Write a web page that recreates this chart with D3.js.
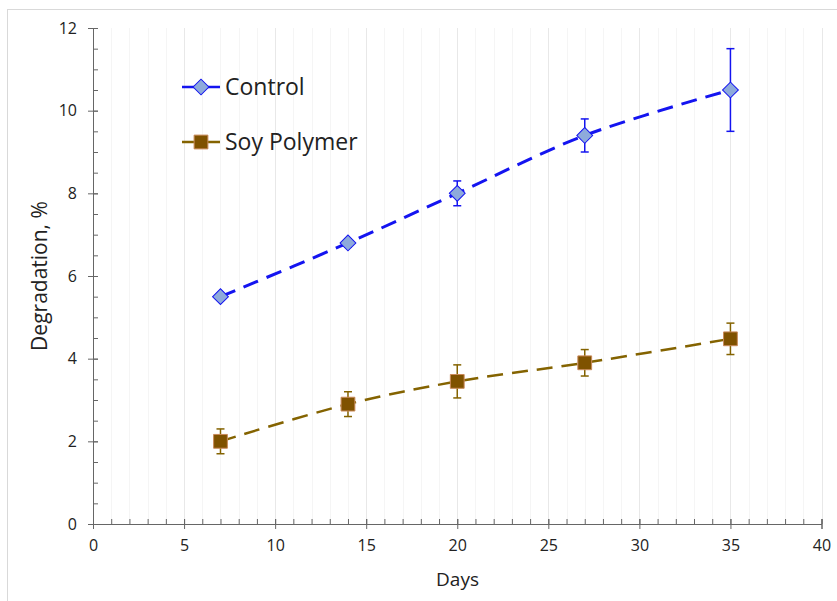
<!DOCTYPE html>
<html>
<head>
<meta charset="utf-8">
<script src="https://cdn.jsdelivr.net/npm/d3@7"></script>
<style>
  body { margin: 0; background: #fff; }
  svg text { font-family: "Open Sans", "Liberation Sans", sans-serif; fill: #222; }
</style>
</head>
<body>
<div class="chart"></div>
<script>
// data
const days = [7, 14, 20, 27, 35];
const control = [5.5, 6.8, 8.0, 9.4, 10.5];
const controlErr = [0.05, 0.1, 0.3, 0.4, 1.0];
const soy = [2.0, 2.9, 3.45, 3.9, 4.48];
const soyErr = [0.3, 0.3, 0.4, 0.32, 0.38];
const xTicks = [0, 5, 10, 15, 20, 25, 30, 35, 40];
const yTicks = [0, 2, 4, 6, 8, 10, 12];

let margin = { top: 28, right: 15, bottom: 77, left: 93 },
    width = 837 - margin.left - margin.right,
    height = 601 - margin.top - margin.bottom;

let root = d3.select(".chart")
    .append("svg")
    .attr("width", 837)
    .attr("height", 601);

// outer frame
root.append("rect")
    .attr("x", 7.5).attr("y", 9.5)
    .attr("width", 840).attr("height", 600)
    .attr("fill", "none")
    .attr("stroke", "#d9d9d9");

let svg = root.append("g")
    .attr("transform", `translate(${margin.left},${margin.top})`);

let xScale = d3.scaleLinear().domain([0, 40]).range([0, width - 0.5]);
let yScale = d3.scaleLinear().domain([0, 12]).range([height, 0]);

// vertical gridlines, one per day
svg.append("g")
    .selectAll("line")
    .data(d3.range(1, 41))
    .join("line")
    .attr("x1", d => Math.round(xScale(d)) + 0.5)
    .attr("x2", d => Math.round(xScale(d)) + 0.5)
    .attr("y1", 0)
    .attr("y2", height)
    .attr("stroke", d => d % 5 === 0 ? "#e8e8e8" : "#f5f5f5");

// minor ticks
svg.append("g")
    .attr("transform", `translate(0,${height})`)
    .attr("class", "x-minor")
    .call(d3.axisBottom(xScale).tickValues(d3.range(0, 41)).tickSize(-5).tickFormat(""));
svg.append("g")
    .attr("class", "y-minor")
    .call(d3.axisLeft(yScale).tickValues(d3.range(0, 12.01, 0.5)).tickSize(-5).tickFormat(""));

// major axes
let xAxis = d3.axisBottom(xScale).tickValues(xTicks).tickSize(5).tickPadding(11);
let yAxis = d3.axisLeft(yScale).tickValues(yTicks).tickSize(5).tickPadding(11);

svg.append("g")
    .attr("class", "axis x-axis")
    .attr("transform", `translate(0,${height})`)
    .call(xAxis);
svg.append("g")
    .attr("class", "axis y-axis")
    .call(yAxis);

// major ticks cross the axis
svg.selectAll(".x-axis .tick line").attr("y1", -5);
svg.selectAll(".y-axis .tick line").attr("x1", 5);

svg.selectAll(".domain").attr("stroke", "#666");
svg.selectAll(".tick line").attr("stroke", "#666");
svg.selectAll(".axis text").style("font-size", "16px").attr("fill", "#222");

// axis titles
svg.append("text")
    .attr("x", width / 2)
    .attr("y", height + 62)
    .attr("text-anchor", "middle")
    .style("font-size", "19px")
    .text("Days");
svg.append("text")
    .attr("transform", `translate(-46,${height / 2}) rotate(-90)`)
    .attr("text-anchor", "middle")
    .style("font-size", "21px")
    .text("Degradation, %");

const series = [
    { name: "Control", vals: control, err: controlErr, line: "#1414f0", fill: "#8eaadb", edge: "#1414f0", sym: d3.symbolSquare, size: 125, rot: 45, w: 3 },
    { name: "Soy Polymer", vals: soy, err: soyErr, line: "#846300", fill: "#7f5200", edge: "#c98a5a", sym: d3.symbolSquare, size: 190, rot: 0, w: 2.5 }
];

let line = d3.line()
    .x(d => xScale(d[0]))
    .y(d => yScale(d[1]))
    .curve(d3.curveCatmullRom.alpha(0.5));

series.forEach(s => {
    let pts = days.map((d, i) => [d, s.vals[i], s.err[i]]);
    let g = svg.append("g");

    g.append("path")
        .datum(pts)
        .attr("d", line)
        .attr("fill", "none")
        .attr("stroke", s.line)
        .attr("stroke-width", s.w)
        .attr("stroke-dasharray", "16,9");

    // error bars
    let eb = g.selectAll(".err")
        .data(pts)
        .join("g");
    eb.append("line")
        .attr("x1", d => xScale(d[0])).attr("x2", d => xScale(d[0]))
        .attr("y1", d => yScale(d[1] - d[2])).attr("y2", d => yScale(d[1] + d[2]))
        .attr("stroke", s.line).attr("stroke-width", 1.5);
    [-1, 1].forEach(k => {
        eb.append("line")
            .attr("x1", d => xScale(d[0]) - 4).attr("x2", d => xScale(d[0]) + 4)
            .attr("y1", d => yScale(d[1] + k * d[2])).attr("y2", d => yScale(d[1] + k * d[2]))
            .attr("stroke", s.line).attr("stroke-width", 1.5);
    });

    g.selectAll(".mk")
        .data(pts)
        .join("path")
        .attr("transform", d => `translate(${xScale(d[0])},${yScale(d[1])}) rotate(${s.rot})`)
        .attr("d", d3.symbol().type(s.sym).size(s.size))
        .attr("fill", s.fill)
        .attr("stroke", s.edge)
        .attr("stroke-width", 1);
});

// legend
let legend = root.append("g");
series.forEach((s, i) => {
    let y = 87 + i * 55;
    legend.append("line")
        .attr("x1", 182).attr("x2", 220)
        .attr("y1", y).attr("y2", y)
        .attr("stroke", s.line).attr("stroke-width", 2.5);
    legend.append("path")
        .attr("transform", `translate(201,${y}) rotate(${s.rot})`)
        .attr("d", d3.symbol().type(s.sym).size(s.size))
        .attr("fill", s.fill)
        .attr("stroke", s.edge);
    legend.append("text")
        .attr("x", 225).attr("y", y + 8)
        .style("font-size", "23px")
        .text(s.name);
});
</script>
</body>
</html>
